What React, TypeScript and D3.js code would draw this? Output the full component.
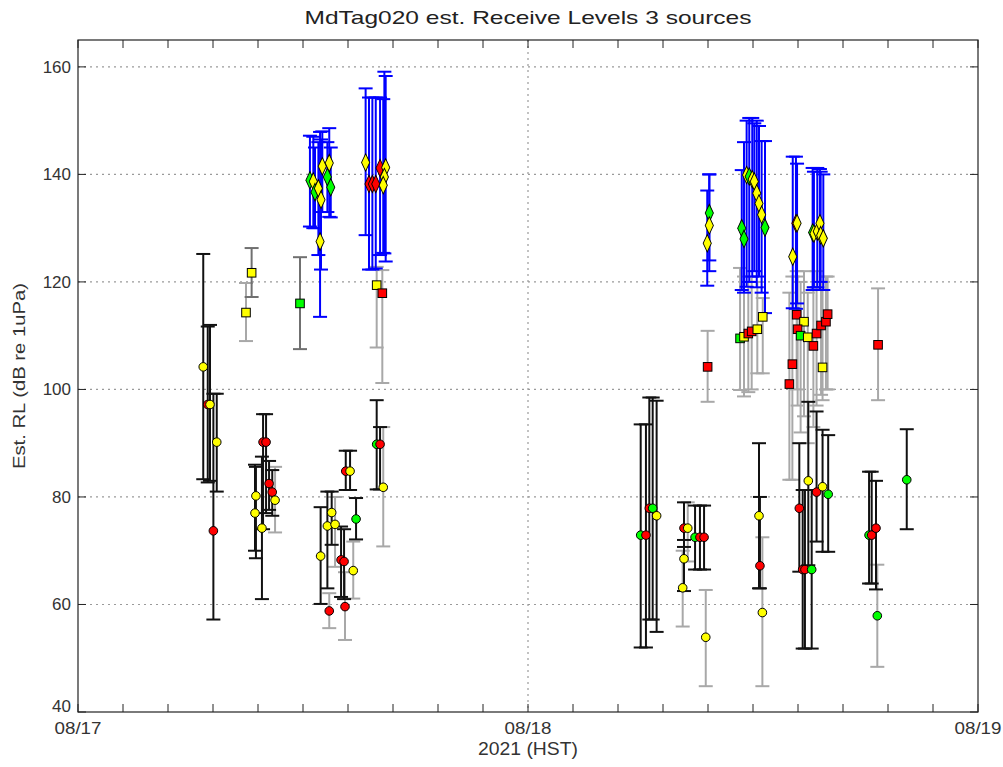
import React from "react";
import * as d3 from "d3";

// hours since 08/17 00:00 HST, value, lower, upper, fill, shape, bar colour
const times = [6.68,6.92,7.04,7.40,7.22, 9.26,8.96,11.84, 9.87,10.03,9.49,9.44,9.81,10.19,10.36,10.51,
  12.94,13.30,13.53,13.71,13.40,14.03,14.19,14.24,14.28,14.51,14.68,14.83,15.93,16.11,16.28,
  12.37,12.55,12.64,12.82,12.96,13.03,12.91,13.40,13.30,13.48,
  15.34,15.52,15.70,15.88,16.11,16.41,16.34,16.28, 15.93,16.23,
  30.01,30.29,30.47,30.65,30.86,32.32,32.52,32.32,32.25,32.91,33.17,33.39,33.48,33.58,
  33.67,33.67,33.56,
  35.40,35.52,35.66,35.80,35.96,36.07,36.20,36.32,36.46,36.64,
  35.31,35.52,35.75,35.93,36.23,36.52,
  38.29,38.35,38.12,39.18,39.25,39.43,39.57,39.61,39.75,
  38.33,38.72,38.38,38.54,38.92,39.22,39.39,39.63,39.89,39.98,39.71,38.10,37.94,42.67,
  36.32,36.37,36.50,38.47,38.95,39.39,39.71,40.01,38.65,38.77,39.13,42.19,42.33,42.56,42.63,44.20];
const values = [104.2,97.2,97.2,90.2,73.7, 121.7,114.3,116.0, 90.2,90.2,80.2,77.0,74.2,82.5,80.9,79.4,
  69.0,74.6,77.1,74.9,58.8,68.3,68.0,59.6,84.8,84.8,66.3,75.9,89.8,89.8,81.8,
  138.9,138.7,136.7,137.4,135.3,141.5,127.5,142.1,139.5,137.6,
  142.2,138.2,138.2,138.2,141.2,141.3,139.5,138.0, 119.4,117.9,
  72.9,72.9,77.9,77.9,76.5,74.2,74.2,68.5,63.1,72.5,72.5,72.5,53.9,104.2,
  132.8,130.5,127.2,
  130.0,128.0,139.9,139.6,139.1,138.7,136.5,134.6,132.5,130.1,
  109.5,109.8,110.4,110.8,111.2,113.5,
  130.9,130.9,124.7,129.2,129.0,129.4,130.9,128.7,128.1,
  113.9,112.6,111.2,110.0,109.7,108.1,110.4,111.9,112.6,114.0,104.1,104.7,101.0,108.3,
  76.5,67.2,58.5,77.9,83.0,80.9,81.9,80.5,66.5,66.5,66.5,72.9,72.9,74.2,57.9,83.2];
const lowers = [83.3,82.7,83.0,81.0,57.2, 117.2,109.0,107.5, 74,77,68.6,70,61.0,77.6,76.5,73.4,
  60.1,63,71.1,67,55.6,61.4,61,53.4,81.3,81.3,61.1,72.1,81.4,81.4,70.8,
  130.3,130,130,125,122.3,133,113.5,132.1,133,132,
  128.7,122.3,122.3,122.5,125,123.8,125.3,125.4, 107.8,101.2,
  52.0,52.0,57.2,57.2,54.9,70.7,68,62.5,55.9,66.5,66.5,66.5,44.8,97.7,
  124,122,119.3,
  118.5,118,119.1,120,121,122,119,121,118,114.2,
  99.9,98.7,99.5,100,103,103,
  115,116,115.1,118.5,119,119,118.5,120,118.5,
  100,95,97,92,90,93,97,99,100,100,98,83.2,83.2,98,
  63.0,63,44.8,66.1,67.3,71.7,69.8,69.8,51.8,51.8,51.8,63.9,63.9,62.8,48.4,74.0];
const uppers = [125.2,111.7,112,99.2,99.2, 126.3,119.8,124.6, 95.4,95.4,85.6,86,87.5,86.7,85.0,85.6,
  78.1,81,81.0,80,62.1,74.5,74,66,88.6,88.6,71.7,79.8,98.0,93,93,
  147.2,147,145,146,146.5,148,147.9,148.6,146,145,
  156.0,154.3,154.3,154.3,154.3,158.3,159.1,154, 122.8,122.2,
  93.5,93.5,98.5,98.5,97.9,79.0,79.0,72,70,78.4,78.4,78.4,62.7,110.9,
  140.0,140.0,137,
  140.8,146,150,150.5,150.5,149.5,150,149,146.2,146.2,
  122.6,121,120,121,120,117,
  143.3,142,143.3,141.2,140.5,141.2,141,140.5,140,
  122,122,121,120,118,119,122,120,121,121,120,121,118,118.8,
  90.0,80.0,72.5,90.0,97.7,95.9,92.5,91.5,81.3,81.3,81.3,84.7,84.7,83.0,67.4,92.6];
const fills = ["y","r","y","y","r", "y","y","g", "r","r","y","y","y","r","r","y",
  "y","y","y","y","r","r","r","r","r","y","y","g","g","r","y",
  "g","y","g","y","y","y","y","y","g","g",
  "y","r","r","r","r","y","y","y", "y","r",
  "g","r","r","g","y","r","y","y","y","g","r","r","y","r",
  "g","y","y",
  "g","g","y","g","y","y","y","y","y","g",
  "g","y","r","r","y","y",
  "r","y","y","g","y","y","y","y","y",
  "r","y","r","g","y","r","r","r","r","r","y","r","r","r",
  "y","r","y","r","y","r","y","g","r","r","g","g","r","r","g","g"];
const shapes = ["c","c","c","c","c", "s","s","s", "c","c","c","c","c","c","c","c",
  "c","c","c","c","c","c","c","c","c","c","c","c","c","c","c",
  "d","d","d","d","d","d","d","d","d","d",
  "d","d","d","d","d","d","d","d", "s","s",
  "c","c","c","c","c","c","c","c","c","c","c","c","c","s",
  "d","d","d",
  "d","d","d","d","d","d","d","d","d","d",
  "s","s","s","s","s","s",
  "d","d","d","d","d","d","d","d","d",
  "s","s","s","s","s","s","s","s","s","s","s","s","s","s",
  "c","c","c","c","c","c","c","c","c","c","c","c","c","c","c","c"];
const bars = ["k","k","k","k","k", "G","g","G", "k","k","k","k","k","k","k","g",
  "k","k","k","g","g","k","k","g","k","k","g","k","k","k","g",
  "b","b","b","b","b","b","b","b","b","b",
  "b","b","b","b","b","b","b","b", "g","g",
  "k","k","k","k","k","k","g","k","g","k","k","k","g","g",
  "b","b","b",
  "b","b","b","b","b","b","b","b","b","b",
  "g","g","g","g","g","g",
  "b","b","b","b","b","b","b","b","b",
  "g","g","g","g","g","g","g","g","g","g","g","g","g","g",
  "k","k","g","k","k","k","k","k","k","k","k","k","k","k","g","k"];

const dayTicks = [0, 24, 48];
const dayLabels = ["08/17", "08/18", "08/19"];
const yTicks = [40, 60, 80, 100, 120, 140, 160];
const minorStep = 2.4;

const fillCol: Record<string, string> = { y: "#ffff00", r: "#ff0000", g: "#00ff00" };
const barCol: Record<string, string> = { k: "#111111", g: "#a8a8a8", G: "#707070", b: "#0000ff" };
const barOrder = ["g", "G", "k", "b"];

const W = 1003, H = 767;
const L = 78, R = 978, T = 40, B = 712;

export default function App() {
  const x = d3.scaleLinear().domain([0, 48]).range([L, R]);
  const y = d3.scaleLinear().domain([40, 165]).range([B, T]);
  const pts = times.map((t, i) => ({
    t, v: values[i], lo: lowers[i], hi: uppers[i], f: fills[i], s: shapes[i], b: bars[i],
  }));
  const minor = d3.range(0, 48.0001, minorStep);
  const font = "Arial, 'Liberation Sans', sans-serif";
  const cap = 7;
  const diamond = d3.symbol().type(d3.symbolDiamond).size(80)();

  return (
    <svg width={W} height={H} style={{ position: "absolute", left: 0, top: 0, background: "#fff" }}
      fontFamily={font}>
      <rect x={0} y={0} width={W} height={H} fill="#fff" />
      {/* grid */}
      {yTicks.filter((v) => v > 40).map((v) => (
        <line key={"gy" + v} x1={L} x2={R} y1={y(v)} y2={y(v)} stroke="#9a9a9a" strokeWidth={1.2}
          strokeDasharray="2,4" />
      ))}
      {dayTicks.filter((d) => d > 0 && d < 48).map((d) => (
        <line key={"gx" + d} x1={x(d)} x2={x(d)} y1={T} y2={B} stroke="#9a9a9a" strokeWidth={1.2}
          strokeDasharray="2,4" />
      ))}
      {/* error bars */}
      {barOrder.map((bc) => (
        <g key={"bars" + bc} stroke={barCol[bc]} strokeWidth={2} fill="none">
          {pts.filter((p) => p.b === bc).map((p, i) => {
            const px = x(p.t);
            return (
              <g key={i}>
                <line x1={px} x2={px} y1={y(p.lo)} y2={y(p.hi)} />
                <line x1={px - cap} x2={px + cap} y1={y(p.lo)} y2={y(p.lo)} />
                <line x1={px - cap} x2={px + cap} y1={y(p.hi)} y2={y(p.hi)} />
              </g>
            );
          })}
        </g>
      ))}
      {/* markers */}
      <g stroke="#000" strokeWidth={1}>
        {pts.map((p, i) => {
          const px = x(p.t), py = y(p.v);
          if (p.s === "c") return <circle key={i} cx={px} cy={py} r={4.3} fill={fillCol[p.f]} />;
          if (p.s === "s") return <rect key={i} x={px - 4.3} y={py - 4.3} width={8.6} height={8.6} fill={fillCol[p.f]} />;
          return <path key={i} d={diamond ?? ""} transform={`translate(${px},${py}) scale(0.85,1.05)`} fill={fillCol[p.f]} />;
        })}
      </g>
      {/* axes box */}
      <rect x={L} y={T} width={R - L} height={B - T} fill="none" stroke="#222" strokeWidth={1.2} />
      {/* ticks */}
      {minor.map((m, i) => (
        <g key={"mt" + i} stroke="#222" strokeWidth={1}>
          <line x1={x(m)} x2={x(m)} y1={B} y2={B - 8} />
          <line x1={x(m)} x2={x(m)} y1={T} y2={T + 8} />
        </g>
      ))}
      {yTicks.map((v) => (
        <g key={"yt" + v} stroke="#222" strokeWidth={1}>
          <line x1={L} x2={L + 8} y1={y(v)} y2={y(v)} />
          <line x1={R} x2={R - 8} y1={y(v)} y2={y(v)} />
        </g>
      ))}
      {/* tick labels */}
      {dayTicks.map((d, i) => (
        <text key={"xl" + d} x={x(d)} y={B + 22} textAnchor="middle" fontSize={17} fill="#333"
          textLength={47} lengthAdjust="spacingAndGlyphs">{dayLabels[i]}</text>
      ))}
      {yTicks.map((v) => (
        <text key={"yl" + v} x={L - 7} y={y(v) + 6 - (v === 40 ? 6 : 0)} textAnchor="end" fontSize={17}
          fill="#333">{v}</text>
      ))}
      {/* labels */}
      <text x={(L + R) / 2} y={24} textAnchor="middle" fontSize={19} fill="#222"
        textLength={447} lengthAdjust="spacingAndGlyphs">MdTag020 est. Receive Levels 3 sources</text>
      <text x={(L + R) / 2} y={755} textAnchor="middle" fontSize={18} fill="#333"
        textLength={100} lengthAdjust="spacingAndGlyphs">2021 (HST)</text>
      <text transform={`translate(25,${(T + B) / 2}) rotate(-90)`} textAnchor="middle" fontSize={17}
        fill="#333" textLength={186} lengthAdjust="spacingAndGlyphs">Est. RL (dB re 1uPa)</text>
    </svg>
  );
}
